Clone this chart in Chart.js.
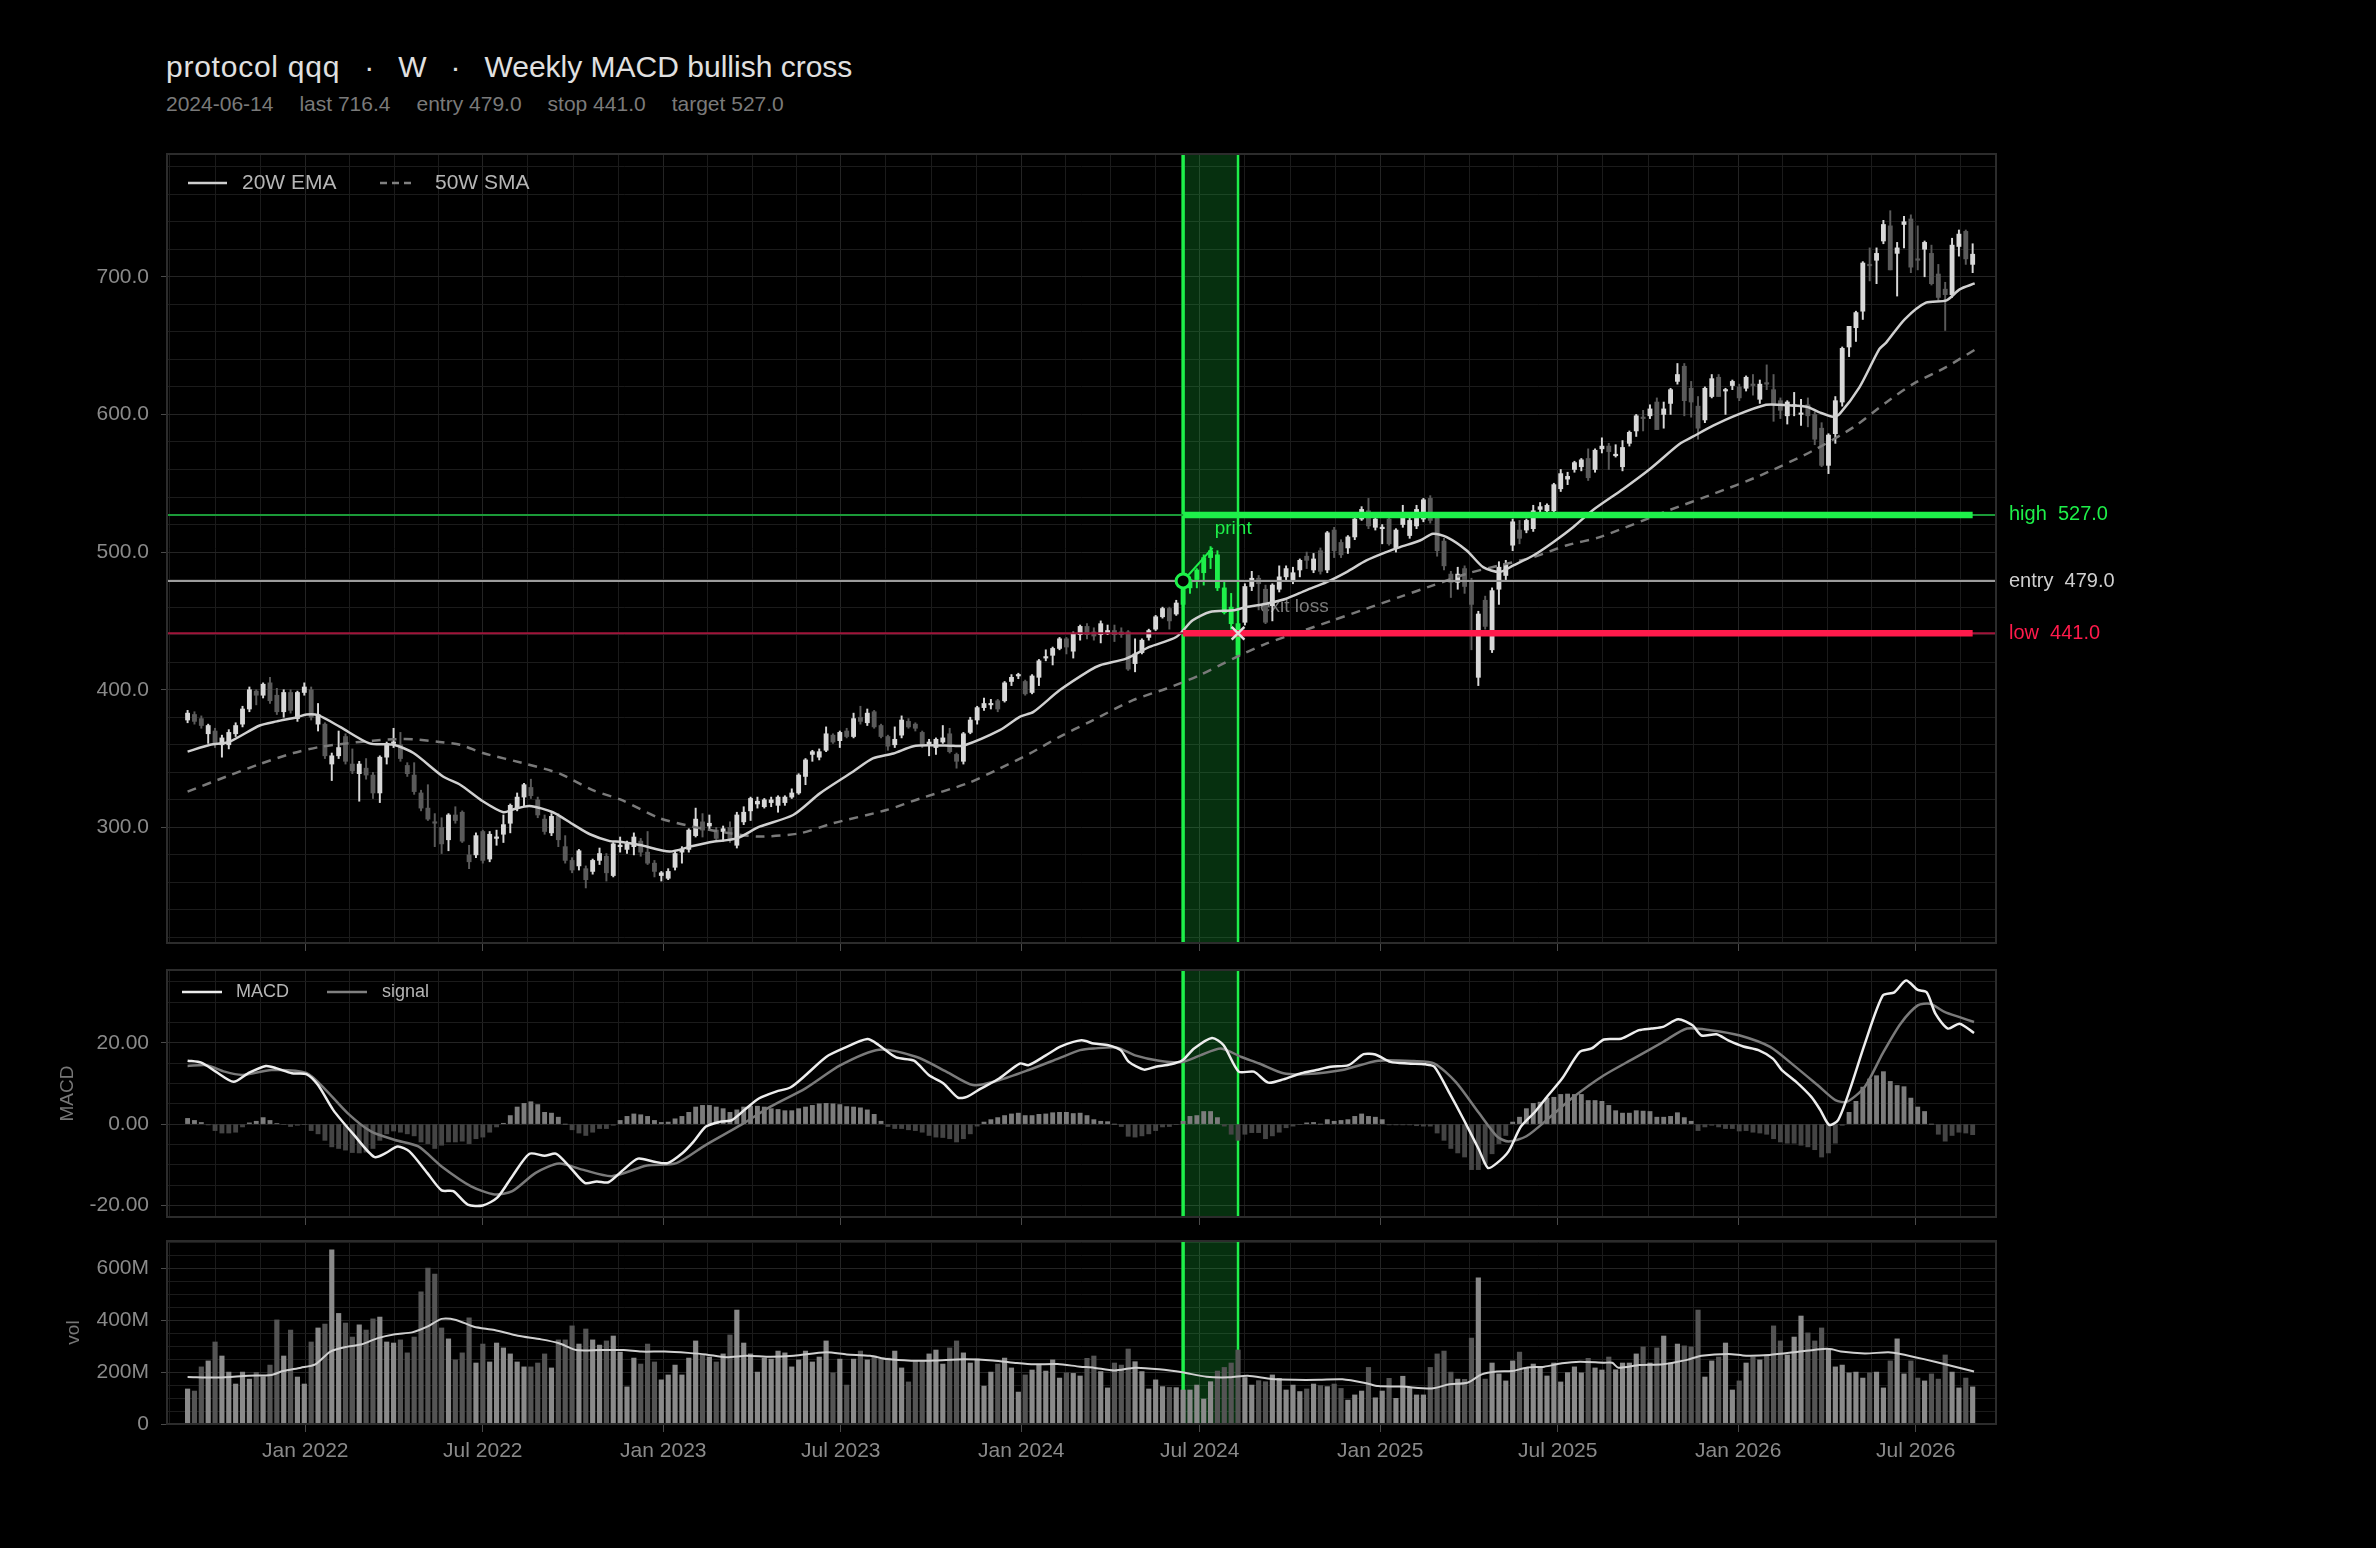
<!DOCTYPE html>
<html>
<head>
<meta charset="utf-8">
<script src="https://cdn.jsdelivr.net/npm/chart.js@4.4.1/dist/chart.umd.min.js"></script>
<style>
  html, body { margin: 0; padding: 0; background: #000; }
  #wrap { position: relative; width: 2376px; height: 1548px; background: #000; overflow: hidden;
          font-family: 'Liberation Sans', Arial, sans-serif; }
  canvas { position: absolute; left: 0; }
  #title { position: absolute; left: 166px; top: 50px; font-size: 30px; line-height: 34px; color: #e0e0e0; white-space: pre; }
  #title .lead { letter-spacing: 0.75px; }
  #title .dot { margin: 0 24px; }
  #sub { position: absolute; left: 166px; top: 91px; font-size: 21px; line-height: 26px; color: #7a7a7a; white-space: pre; }
  #sub span { margin-right: 26px; }
</style>
</head>
<body>
<div id="wrap">
  <div id="title"><span class="lead">protocol qqq</span><span class="dot">·</span><span>W</span><span class="dot">·</span><span>Weekly MACD bullish cross</span></div>
  <div id="sub"><span>2024-06-14</span><span>last 716.4</span><span>entry 479.0</span><span>stop 441.0</span><span>target 527.0</span></div>
  <canvas id="main" width="2376" height="960" style="top:0;width:2376px;height:960px"></canvas>
  <canvas id="macd" width="2376" height="270" style="top:960px;width:2376px;height:270px"></canvas>
  <canvas id="vol" width="2376" height="318" style="top:1230px;width:2376px;height:318px"></canvas>
</div>
<script>
// weekly bars, first bar Fri 2021-09-03
const startDate = Date.UTC(2021, 8, 3);
const entryDate = Date.UTC(2024, 5, 14);
const exitDate = Date.UTC(2024, 7, 9);
const entryPrice = 479.0;
const stopPrice = 441.0;
const targetPrice = 527.0;

// [open, high, low, close]
const candles = [
  [378,385,376,383],[382,384,375,377],[379,381,372,374],[368,375,361,374],[370,372,358,361],[360,367,351,365],[360,371,357,369],[368,376,366,374],[375,388,373,386],[386,402,384,400],
  [399,400,389,396],[396,405,394,404],[405,409,390,392],[396,401,382,384],[384,400,380,398],[398,400,383,385],[379,399,377,398],[398,405,396,402],[400,402,378,380],[375,390,370,382],
  [375,376,350,352],[346,354,334,352],[352,370,350,358],[366,368,346,348],[346,357,339,341],[339,348,319,346],[343,350,335,338],[338,340,321,325],[325,352,318,351],[351,362,346,361],
  [361,372,358,362],[360,369,348,350],[345,347,337,339],[338,347,324,326],[325,327,312,314],[314,331,305,306],[304,310,286,303],[300,307,281,288],[291,310,283,309],[309,315,303,305],
  [311,312,289,290],[280,287,270,275],[280,296,278,294],[297,298,274,276],[277,297,275,295],[292,298,287,293],[295,309,289,302],[303,317,296,316],[314,325,312,322],[322,332,315,331],
  [329,335,321,323],[320,322,307,309],[306,309,295,297],[296,310,294,308],[308,310,286,291],[286,294,274,276],[276,278,267,269],[272,284,269,283],[270,272,256,262],[268,277,266,276],
  [276,285,273,281],[279,281,261,267],[265,289,264,288],[286,293,282,287],[284,290,281,288],[286,296,280,293],[290,292,279,282],[282,297,273,274],[274,276,264,268],[265,268,261,267],
  [263,270,262,268],[271,282,269,281],[282,286,274,284],[284,299,282,298],[294,314,293,306],[304,310,293,298],[301,309,299,303],[298,300,291,292],[297,301,290,299],[300,304,289,291],
  [287,311,285,309],[304,315,302,311],[312,322,305,321],[317,322,314,319],[315,321,314,320],[318,322,315,320],[316,323,311,322],[318,323,316,322],[322,328,321,325],[325,339,324,338],
  [337,350,331,349],[353,356,348,355],[351,357,349,355],[356,373,355,368],[367,368,361,362],[363,370,358,369],[370,372,365,366],[366,383,365,379],[380,388,375,377],[376,386,374,383],
  [384,385,372,373],[374,375,365,366],[366,367,356,359],[360,373,358,364],[367,381,365,378],[377,379,372,373],[375,376,370,372],[369,370,358,360],[360,364,352,362],[358,365,353,364],
  [362,374,361,365],[368,372,354,355],[353,354,343,348],[348,369,346,368],[369,380,368,378],[378,388,375,387],[387,394,385,390],[389,393,386,390],[392,393,384,386],[392,406,391,405],
  [406,411,403,409],[410,412,408,411],[406,407,396,397],[398,411,397,410],[409,422,403,421],[423,429,421,424],[425,431,418,430],[430,438,429,437],[437,438,426,431],[428,442,423,441],
  [440,447,436,446],[446,448,437,440],[442,445,436,439],[440,450,434,448],[441,447,440,443],[443,447,435,440],[442,445,438,440],[442,443,414,415],[419,437,413,426],[427,437,426,436],
  [438,444,436,443],[444,454,443,453],[453,460,452,459],[459,460,444,450],[455,465,454,463],[462,481,460,477],[474,482,470,480],[480,488,474,487],[485,498,476,496],[496,504,488,501],
  [498,501,472,474],[474,478,455,456],[460,470,444,448],[448,452,423,425],[449,477,447,475],[475,486,472,481],[481,483,458,477],[473,476,448,449],[461,477,450,476],[473,490,471,482],
  [482,490,480,488],[479,489,477,485],[487,495,482,494],[497,500,488,494],[487,499,485,495],[501,503,484,486],[487,515,485,514],[516,518,496,501],[507,509,496,498],[503,512,499,511],
  [511,525,509,524],[524,533,523,531],[530,539,517,519],[518,528,516,524],[517,520,506,518],[524,526,505,506],[503,517,500,516],[520,534,518,527],[512,525,510,523],[519,534,517,531],
  [524,539,522,538],[539,541,521,523],[525,527,497,501],[508,510,487,490],[484,486,467,478],[478,489,473,484],[488,490,470,475],[479,481,429,462],[409,457,403,455],[465,468,444,446],
  [429,474,427,472],[473,493,462,489],[483,494,480,491],[505,524,501,522],[516,523,506,510],[516,524,514,523],[517,534,515,530],[531,536,528,533],[530,535,528,534],[530,550,529,549],
  [546,560,544,557],[553,558,549,555],[560,566,558,565],[562,568,559,567],[568,575,552,554],[560,575,558,574],[575,583,572,577],[577,579,560,573],[570,578,569,571],[562,581,559,576],
  [579,588,577,587],[588,600,584,599],[598,603,588,597],[599,607,597,604],[609,612,589,589],[600,609,590,604],[608,619,600,618],[624,637,622,629],[635,637,599,610],[619,624,598,609],
  [606,613,582,590],[596,620,594,619],[613,629,612,626],[627,629,613,613],[617,619,600,618],[621,625,618,624],[620,622,610,612],[619,628,617,627],[622,629,614,621],[611,625,608,622],
  [623,636,618,622],[618,629,595,607],[610,612,597,603],[599,610,593,609],[606,616,599,607],[600,611,592,601],[607,612,591,599],[600,602,578,582],[590,594,562,563],[563,586,557,585],
  [586,613,579,610],[609,649,606,648],[649,664,642,664],[663,675,653,674],[675,711,669,710],[709,721,697,708],[712,721,695,717],[726,741,724,738],[737,748,705,705],[717,725,686,721],
  [738,744,721,740],[742,745,703,707],[713,737,705,712],[720,726,700,725],[717,723,694,695],[702,709,683,685],[691,696,661,687],[687,728,685,723],[722,734,715,731],[733,734,709,713],
  [709,724,703,716.4]
];

// [week, value]
const ema20 = [[0,355],[3.3,360],[6,362],[10.5,374],[13,377],[15.9,380],[17.3,382],[19,381.5],[22.2,373],[26.5,361],[30,360],[32.9,354],[37.2,337],[39.7,331],[43,319],[46,311],[47.4,313],[49.8,315.5],[53.2,311],[56.2,302],[58.6,295],[61.5,290],[63,289.6],[65.9,287.2],[70.2,282.4],[73.2,286],[76.5,289.6],[80,292],[83.3,300.5],[88.2,309],[92.1,324.7],[96.9,340.4],[99.8,350.1],[102.8,353.7],[105.7,359],[108.1,359.7],[111.5,359.3],[113,359.3],[118.3,370.6],[121.2,380.3],[123.2,383.9],[127,399.6],[131.4,414.1],[132.9,417.8],[136.7,422.6],[140.1,431.1],[144,438.3],[146.4,450.4],[148.9,456.5],[152.3,457.7],[154.2,460.1],[157.1,462.5],[160,466.1],[162.9,472.2],[165.9,478.2],[168.8,485.5],[171.7,493.9],[174.6,500],[176.6,503.6],[179.5,508.4],[181.4,513.3],[183.4,510.9],[186.3,501.2],[188.7,489.1],[191.1,485.5],[193.1,490.3],[196,497.5],[198.9,507.2],[201.8,518.1],[204.7,530.6],[209.1,545.9],[213,560.4],[217.3,578.5],[219.3,584],[222.2,591.8],[225.6,599.5],[229.9,607],[231.9,607],[235.8,605.6],[237.7,601.5],[239.7,598.3],[240.6,600.2],[243.5,619.6],[246.4,647.4],[247.4,652.2],[250.1,669.1],[253.2,681.2],[256.2,682.9],[258.1,690.9],[260.3,695.2]];
const sma50 = [[0,326],[5.7,337],[10.5,346],[15.4,354],[19.3,358.5],[23.1,361],[27,363],[30,364],[32.9,364],[36.7,362],[39.7,360],[43,354],[49.4,346],[54.2,339],[59,327],[63,320.3],[68.8,306.6],[73.6,300.5],[79,295.7],[83.3,293.3],[89.2,295.7],[94,303],[101.8,312.6],[106.7,321],[113.6,332],[118.3,342.8],[122.7,353.7],[127,365.8],[131.4,376.7],[137.7,392.4],[142.6,400.9],[147.4,410.5],[152.3,422.6],[157.1,433.5],[162,442],[166.8,450.4],[171.7,458.9],[176.5,467.3],[181.4,475.8],[186.3,484.3],[191.1,490.3],[196,496.3],[200.8,504.8],[205.7,510.9],[215.9,530.6],[222.2,542.2],[229,555.5],[236.7,573.6],[242.6,590.6],[247.4,608.7],[251.3,622],[256.2,634.6],[260.3,646.9]];

const macdLine = [[0,15.6],[2,15.1],[4.1,12.9],[6.7,10.4],[8.8,12.5],[11.4,14.3],[13,13.7],[15.2,12.5],[17.3,12.3],[19,9.6],[21.2,3.5],[24.2,-2.6],[27.2,-8.1],[28.9,-7.1],[30.6,-5.5],[32.3,-6.7],[34.9,-12],[37,-16.3],[38.7,-16.5],[40.8,-19.8],[43,-20],[45.1,-18.1],[47.3,-12.8],[49.8,-7.3],[52,-7.8],[53.7,-7.3],[55.8,-10.8],[57.9,-14.5],[59.6,-14.1],[61.3,-14.3],[63.5,-11.2],[65.6,-8.5],[67.8,-9.2],[69.9,-9.6],[72.1,-7.1],[73.7,-4.3],[75.5,-0.6],[77.6,0.6],[79.3,1.0],[81.4,3.9],[83.2,6.3],[85.7,8.0],[87.8,9.0],[90,12.0],[93,16.5],[95.5,18.6],[99,20.9],[100.7,19.4],[103.2,16.4],[105.8,15.6],[108,12.0],[110.1,10.0],[112.2,6.5],[113.5,6.7],[115.6,8.8],[118.2,11.2],[121.2,14.9],[122.5,14.5],[125,16.9],[127.2,19.1],[130.2,20.6],[132,19.8],[134.1,19.4],[135.9,18.2],[137.1,15.3],[139.3,13.4],[141,14.1],[143.2,14.7],[144.9,15.7],[146.6,18.6],[149.2,21.2],[150.9,19.4],[153.1,12.9],[155.3,12.9],[157.4,10.2],[159.6,11.0],[162.2,12.5],[164.4,13.3],[166.5,14.1],[169.1,14.5],[171.3,17.2],[173,17.1],[175.2,15.3],[177.8,14.9],[180.3,14.7],[181.6,14.1],[183.8,7.6],[185.9,1.0],[188.1,-6.3],[189.4,-10.8],[190.7,-9.6],[192.4,-6.7],[194.2,-0.6],[196.3,3.1],[198,6.7],[200.2,11.2],[202.8,17.8],[204.5,18.6],[206.3,20.8],[208.8,21.0],[211.4,23.1],[213.2,23.5],[214.9,23.9],[217.1,25.8],[219.2,24.3],[220.5,21.8],[222.7,22.1],[224.4,20.6],[226.6,19.1],[228.8,18.2],[230.9,16.1],[232.2,13.3],[234.3,10.4],[236.5,6.7],[237.8,3.5],[239.1,-0.2],[240.4,1.0],[242.1,8.4],[244.3,19.8],[246.9,31.6],[248.6,32.4],[250.3,35.3],[252,33.0],[253.3,32.4],[254.6,27.1],[256.4,23.5],[258.1,24.7],[260.2,22.4]];
const signalLine = [[0,14.3],[2.8,14.5],[5.4,12.9],[8,12.1],[12.2,13.3],[17.3,12.6],[19.9,8.8],[23.3,2.7],[26.7,-1.8],[30.2,-3.9],[33.6,-5.5],[37,-10.4],[41.3,-15.3],[44.7,-17.3],[47.3,-16.5],[50.7,-12],[54.1,-9.7],[57.5,-11.2],[61.8,-12.8],[66.9,-10.2],[71.2,-9.6],[75.5,-5.1],[80.6,-0.2],[84.9,4.3],[90,8.8],[95.1,14.5],[100.7,18.3],[106.2,16.5],[110.5,12.9],[114.4,9.6],[118.2,10.8],[122.5,13.3],[126.8,16.1],[130,18.2],[132,18.6],[135.4,18.8],[138,16.9],[141.5,15.6],[144.9,15.3],[147.5,16.9],[150.5,18.6],[153.5,16.5],[156.1,14.9],[159.6,12.5],[163,12.3],[168.2,13.3],[173.4,15.6],[178.6,15.5],[181.6,14.9],[184.7,10.4],[188.1,2.7],[190.7,-3.0],[192.4,-4.3],[195,-3.0],[198.5,1.8],[201.9,6.7],[206.3,12.0],[210.6,16.1],[214.9,20.2],[218.4,23.5],[221.8,23.1],[226.1,21.8],[230.5,19.0],[233.9,14.5],[237.4,9.6],[240,5.9],[241.7,5.5],[244.3,9.2],[246.9,17.4],[249.5,24.7],[252,29.2],[253.8,29.6],[255.9,27.6],[258.1,26.3],[260.2,25.1]];

// one value per weekly bar
const macdHist = [
  1.4,0.9,0.4,-0.2,-1.6,-2.2,-2.2,-2.0,-0.7,0.3, 0.7,1.6,0.9,0.1,-0.1,-0.6,-0.3,-0.1,-1.6,-2.4,
  -4.0,-5.6,-6.0,-6.4,-7.0,-7.1,-6.9,-6.0,-4.0,-2.4, -1.7,-2.0,-2.4,-2.9,-4.4,-4.8,-6.0,-5.2,-4.4,-4.4,
  -4.2,-4.8,-3.6,-3.2,-2.0,-0.7,0.2,2.1,4.2,5.1, 5.5,4.8,2.9,2.7,1.7,0,-1.4,-2.2,-2.8,-2.0,
  -1.1,-1.1,-0.3,0.9,1.9,2.5,2.3,1.9,0.9,0.4, 0.5,1.3,1.9,2.9,4.2,4.6,4.6,4.2,3.8,2.9,
  3.5,4.2,4.4,4.4,4.2,3.8,3.6,3.3,3.3,3.8, 4.2,4.6,5.0,5.1,5.0,4.8,4.3,4.2,4.0,3.5,
  2.4,0.7,-0.6,-1.1,-1.1,-1.4,-1.6,-2.0,-2.8,-3.2, -3.3,-3.6,-4.4,-3.6,-2.4,-0.5,0.5,1.1,1.6,2.1,
  2.5,2.7,2.1,2.1,2.4,2.5,2.8,2.9,2.9,2.6, 2.7,2.1,1.1,0.7,0.6,0,-0.6,-3.0,-3.2,-2.9,
  -2.4,-1.6,-0.7,-0.6,-0.1,0.7,1.9,2.1,3.1,3.1, 1.6,-0.5,-2.5,-4.0,-2.5,-2.1,-2.1,-3.6,-2.9,-2.0,
  -0.9,-0.5,-0.1,0.3,0.4,0,1.1,0.7,0.9,1.1, 1.9,2.5,1.9,1.7,1.1,-0.2,-0.2,-0.2,-0.2,-0.4,
  -0.5,-0.5,-2.2,-4.0,-6.0,-7.1,-8.1,-11.2,-11.2,-9.7, -7.3,-4.8,-2.8,0.5,1.7,3.8,5.1,5.4,6.4,6.6,
  7.3,7.4,7.3,7.3,5.8,5.8,5.6,4.6,3.3,2.7, 2.7,3.3,3.2,3.1,1.7,1.7,1.9,2.8,1.6,0.7,
  -1.6,-0.7,-0.3,-0.7,-1.1,-1.1,-1.7,-1.6,-2.0,-2.2, -2.5,-3.6,-4.4,-4.7,-4.7,-5.2,-5.6,-6.3,-8.1,-7.1,
  -4.7,-0.3,2.9,5.6,9.1,11.1,11.9,12.9,10.5,9.5, 9.2,6.4,4.2,3.1,0,-2.5,-4.2,-2.8,-2.0,-2.2,
  -2.6
];

// millions of shares
const volumes = [
  135,127,220,243,316,262,200,154,200,173, 199,182,227,401,262,362,181,154,316,370,
  385,671,426,389,335,382,362,405,412,316, 312,324,274,335,509,601,578,370,328,247,
  274,409,235,308,239,312,293,270,239,220, 220,235,270,216,324,324,378,308,366,324,
  304,320,339,277,143,254,231,308,239,170, 189,227,189,254,320,266,258,239,270,343,
  439,312,270,200,254,250,281,274,220,247, 281,239,258,320,197,250,150,250,281,247,
  262,250,254,281,216,162,243,243,270,285, 231,293,320,274,235,250,146,200,231,254,
  216,123,189,208,227,204,247,177,197,195, 185,253,262,202,139,235,227,289,240,202,
  135,170,144,141,140,131,131,150,96,163, 204,218,235,285,179,150,167,163,189,176,
  131,150,125,135,154,148,144,154,137,92, 112,127,218,101,127,176,99,184,140,112,
  112,218,270,281,200,173,172,331,563,173, 235,193,166,243,277,215,231,217,185,235,
  162,198,220,197,253,216,208,258,209,235, 235,270,297,235,293,339,235,308,301,297,
  439,181,243,258,312,131,166,235,258,247, 266,378,320,266,335,416,351,320,370,289,
  220,227,197,200,177,197,200,139,243,328, 193,243,177,166,193,173,266,200,139,177,
  143
];
const volumeAvg = [[0,181],[4.5,179],[8.8,186],[12.2,189],[13.9,204],[16.5,217],[18.6,230],[20.8,279],[23.3,298],[25.4,307],[27.6,330],[30.2,346],[32.7,353],[34.9,375],[37,405],[39.1,401],[41.7,375],[44.7,362],[48.1,340],[51.5,326],[54.1,311],[56.6,285],[60.1,285],[63.5,285],[66.1,279],[69.5,279],[72.9,274],[75.5,268],[78.4,257],[81.4,263],[84.9,259],[88.3,263],[93,276],[96,268],[99.4,263],[101.9,250],[105.4,244],[108.8,245],[113.1,249],[117.3,245],[120.8,235],[123.3,230],[126.7,231],[130,221],[132,217],[135,206],[138,217],[141.5,211],[144.9,199],[148.4,182],[151.8,180],[154.4,186],[157.9,173],[161.3,170],[164.8,170],[168.2,172],[171.7,157],[173.4,146],[176.9,144],[181.2,137],[183.8,153],[186.4,159],[188.5,191],[190.7,202],[192.9,204],[195,217],[197.6,221],[200.2,234],[202.8,240],[206.3,236],[207.5,236],[208.4,217],[211.4,227],[214.9,230],[218.4,247],[220.5,263],[224.4,270],[227,263],[230.4,266],[234.8,279],[238.2,289],[239.5,288],[240.8,279],[244.3,272],[247.7,276],[249.5,270],[252.9,250],[256.4,227],[260.2,202]];

const WEEK = 7 * 86400000;
const weekOf = ms => (ms - startDate) / WEEK;
const entryWeek = weekOf(entryDate);
const exitWeek = weekOf(exitDate);
const lastWeek = candles.length - 1;

const FONT = "'Liberation Sans', Arial, sans-serif";
const GREEN = '#1ef04a';
const RED = '#ff1a4b';
const UP = '#d8d8d8';
const DOWN = '#5a5a5a';
const TXT = '#8a8a8a';
const GRID = '#1b1b1b';
const GRID_MAJOR = '#242424';
const TICK = '#4a4a4a';
const X_MIN = -3, X_MAX = 263.4;
const PLOT_LEFT = 167;

const pts = arr => arr.map(([x, y]) => ({ x, y }));
const inTrade = i => i >= entryWeek && i <= exitWeek;
const isUp = i => candles[i][3] >= candles[i][0];

function xTickList() {
  const b = [];
  for (let y = 2021; y <= 2027; y++) { b.push([y, 0]); b.push([y, 6]); }
  const out = [];
  for (let k = 0; k < b.length - 1; k++) {
    const a = weekOf(Date.UTC(b[k][0], b[k][1], 1));
    const c = weekOf(Date.UTC(b[k + 1][0], b[k + 1][1], 1));
    for (let q = 0; q < 4; q++) {
      const v = a + (c - a) * q / 4;
      if (v < X_MIN || v > X_MAX) continue;
      out.push({ value: v, isMajor: q === 0, text: q === 0 ? (b[k][1] === 0 ? 'Jan ' : 'Jul ') + b[k][0] : '' });
    }
  }
  return out;
}

function xScale(showLabels, height) {
  return {
    type: 'linear', min: X_MIN, max: X_MAX, offset: false,
    afterBuildTicks: s => { s.ticks = xTickList(); },
    afterFit: s => { s.height = height; s.paddingLeft = 0; s.paddingRight = 0; },
    grid: {
      offset: false, lineWidth: 1, tickLength: 8,
      color: c => (c.tick && c.tick.isMajor ? GRID_MAJOR : GRID),
      tickColor: c => (c.tick && c.tick.isMajor ? TICK : 'rgba(0,0,0,0)')
    },
    border: { display: false },
    ticks: {
      autoSkip: false, maxRotation: 0, padding: 7, color: TXT,
      font: { family: FONT, size: 21 },
      callback: (v, i, ts) => (showLabels ? ts[i].text : '')
    }
  };
}

function yScale(min, max, step, major, fmt, title, titlePad) {
  return {
    type: 'linear', position: 'left', min, max,
    afterBuildTicks: s => {
      const t = [];
      for (let v = Math.ceil(min / step) * step; v <= max; v += step) {
        t.push({ value: v, isMajor: Math.abs(v % major) < 1e-9 });
      }
      s.ticks = t;
    },
    afterFit: s => { s.width = PLOT_LEFT; s.paddingTop = 0; s.paddingBottom = 0; },
    grid: {
      lineWidth: 1, tickLength: 6,
      color: c => (c.tick && c.tick.isMajor ? GRID_MAJOR : GRID),
      tickColor: c => (c.tick && c.tick.isMajor ? TICK : 'rgba(0,0,0,0)')
    },
    border: { display: false },
    ticks: {
      autoSkip: false, padding: 12, color: TXT, font: { family: FONT, size: 21 },
      callback: (v, i, ts) => (ts[i].isMajor ? fmt(v) : '')
    },
    title: title
      ? { display: true, text: title, color: '#777', font: { family: FONT, size: 19 }, padding: { top: titlePad, bottom: 0 } }
      : { display: false }
  };
}

function tradeBand(chart) {
  const { ctx, chartArea: a, scales: { x } } = chart;
  const x0 = x.getPixelForValue(entryWeek);
  const x1 = x.getPixelForValue(exitWeek);
  ctx.save();
  ctx.fillStyle = 'rgba(30, 240, 74, 0.2)';
  ctx.fillRect(x0, a.top, x1 - x0, a.bottom - a.top);
  ctx.strokeStyle = GREEN;
  ctx.lineWidth = 3.5;
  ctx.beginPath(); ctx.moveTo(x0, a.top); ctx.lineTo(x0, a.bottom); ctx.stroke();
  ctx.lineWidth = 2.5;
  ctx.beginPath(); ctx.moveTo(x1, a.top); ctx.lineTo(x1, a.bottom); ctx.stroke();
  ctx.restore();
}

function frame(chart) {
  const { ctx, chartArea: a } = chart;
  ctx.save();
  ctx.strokeStyle = '#2c2c2c';
  ctx.lineWidth = 2;
  ctx.strokeRect(a.left, a.top, a.right - a.left, a.bottom - a.top);
  ctx.restore();
}

function legend(ctx, y, items, size) {
  ctx.save();
  ctx.font = size + 'px ' + FONT;
  ctx.textBaseline = 'middle';
  items.forEach(it => {
    ctx.strokeStyle = it.color;
    ctx.lineWidth = 2.5;
    ctx.setLineDash(it.dash || []);
    ctx.beginPath(); ctx.moveTo(it.x0, y); ctx.lineTo(it.x1, y); ctx.stroke();
    ctx.setLineDash([]);
    ctx.fillStyle = '#b5b5b5';
    ctx.fillText(it.text, it.tx, y);
  });
  ctx.restore();
}

const mainDecor = {
  id: 'mainDecor',
  beforeDatasetsDraw(chart) {
    const { ctx, chartArea: a, scales: { x, y } } = chart;
    tradeBand(chart);
    ctx.save();
    ctx.beginPath(); ctx.rect(a.left, a.top, a.right - a.left, a.bottom - a.top); ctx.clip();
    ctx.font = '19px ' + FONT;
    ctx.textBaseline = 'middle';
    ctx.fillStyle = '#7a7a7a';
    ctx.fillText('exit loss', x.getPixelForValue(exitWeek + 3.2), y.getPixelForValue(460));
    ctx.restore();
  },
  afterDatasetsDraw(chart) {
    const { ctx, scales: { x, y } } = chart;
    ctx.save();
    ctx.font = '19px ' + FONT;
    ctx.textBaseline = 'middle';
    ctx.fillStyle = GREEN;
    ctx.fillText('print', x.getPixelForValue(entryWeek + 4.6), y.getPixelForValue(517));
    ctx.restore();
    legend(ctx, 183, [
      { x0: 188, x1: 227, tx: 242, text: '20W EMA', color: '#cfcfcf' },
      { x0: 380, x1: 415, tx: 435, text: '50W SMA', color: '#808080', dash: [7, 5] }
    ], 21);
  },
  afterDraw(chart) {
    const { ctx, chartArea: a, scales: { y } } = chart;
    frame(chart);
    ctx.save();
    ctx.font = '20px ' + FONT;
    ctx.textBaseline = 'middle';
    [[targetPrice, 'high  ' + targetPrice.toFixed(1), GREEN],
     [entryPrice, 'entry  ' + entryPrice.toFixed(1), '#cfcfcf'],
     [stopPrice, 'low  ' + stopPrice.toFixed(1), RED]].forEach(([v, t, c]) => {
      ctx.fillStyle = c;
      ctx.fillText(t, a.right + 13, y.getPixelForValue(v));
    });
    ctx.restore();
  }
};

const macdDecor = {
  id: 'macdDecor',
  beforeDatasetsDraw(chart) { tradeBand(chart); },
  afterDraw(chart) {
    frame(chart);
    legend(chart.ctx, 32, [
      { x0: 182, x1: 222, tx: 236, text: 'MACD', color: '#ededed' },
      { x0: 327, x1: 367, tx: 382, text: 'signal', color: '#808080' }
    ], 18);
  }
};

const volDecor = {
  id: 'volDecor',
  beforeDatasetsDraw(chart) { tradeBand(chart); },
  afterDraw(chart) { frame(chart); }
};

const baseOptions = {
  responsive: false, animation: false, devicePixelRatio: 1, events: [],
  plugins: { legend: { display: false }, tooltip: { enabled: false } }
};

const line = (data, color, width, order, extra) => Object.assign({
  type: 'line', data: pts(data), borderColor: color, borderWidth: width,
  pointRadius: 0, fill: false, tension: 0.25, order
}, extra || {});

// price panel
new Chart(document.getElementById('main'), {
  type: 'bar',
  data: {
    datasets: [
      { type: 'line', data: [{ x: exitWeek, y: stopPrice }], showLine: false, pointStyle: 'crossRot',
        pointRadius: 9, borderColor: '#dedede', borderWidth: 2.5, order: 0 },
      { type: 'line', data: [{ x: entryWeek, y: entryPrice }], showLine: false, pointStyle: 'circle',
        pointRadius: 7, borderColor: GREEN, backgroundColor: '#000', borderWidth: 3, order: 1 },
      line([[entryWeek, entryPrice], [entryWeek + 4.3, 503]], GREEN, 2, 2, { tension: 0 }),
      line([[entryWeek, targetPrice], [lastWeek, targetPrice]], GREEN, 6.5, 3, { tension: 0 }),
      line([[entryWeek, stopPrice], [lastWeek, stopPrice]], RED, 6.5, 3, { tension: 0 }),
      line([[X_MIN, targetPrice], [X_MAX, targetPrice]], '#1b9a38', 2, 4, { tension: 0 }),
      line([[X_MIN, entryPrice], [X_MAX, entryPrice]], '#9c9c9c', 2, 4, { tension: 0 }),
      line([[X_MIN, stopPrice], [X_MAX, stopPrice]], '#a0143a', 2, 4, { tension: 0 }),
      line(ema20, '#d0d0d0', 2.5, 5),
      line(sma50, '#7a7a7a', 2.5, 6, { borderDash: [9, 7] }),
      { type: 'bar', data: candles.map((c, i) => ({ x: i, y: [c[0], c[3]] })), barThickness: 4.2,
        minBarLength: 1.5, grouped: false, order: 7,
        backgroundColor: c => (inTrade(c.dataIndex) ? GREEN : (isUp(c.dataIndex) ? UP : DOWN)) },
      { type: 'bar', data: candles.map((c, i) => ({ x: i, y: [c[2], c[1]] })), barThickness: 1.3,
        grouped: false, order: 8,
        backgroundColor: c => (inTrade(c.dataIndex) ? GREEN : (isUp(c.dataIndex) ? UP : DOWN)) }
    ]
  },
  options: Object.assign({}, baseOptions, {
    layout: { padding: { top: 154, right: 380, left: 0, bottom: 0 } },
    scales: {
      x: xScale(false, 17),
      y: yScale(216, 789.2, 20, 100, v => v.toFixed(1), null, 0)
    }
  }),
  plugins: [mainDecor]
});

// MACD panel
new Chart(document.getElementById('macd'), {
  type: 'bar',
  data: {
    datasets: [
      line(macdLine, '#ededed', 2.5, 0),
      line(signalLine, '#7a7a7a', 2.5, 1),
      { type: 'bar', data: macdHist.map((v, i) => ({ x: i, y: v })), barThickness: 4.2, grouped: false, order: 2,
        backgroundColor: c => (macdHist[c.dataIndex] >= 0 ? '#7c7c7c' : '#444444') }
    ]
  },
  options: Object.assign({}, baseOptions, {
    layout: { padding: { top: 10, right: 380, left: 0, bottom: 0 } },
    scales: {
      x: xScale(false, 13),
      y: yScale(-22.85, 37.9, 5, 20, v => v.toFixed(2), 'MACD', 56)
    }
  }),
  plugins: [macdDecor]
});

// volume panel
new Chart(document.getElementById('vol'), {
  type: 'bar',
  data: {
    datasets: [
      line(volumeAvg, '#cfcfcf', 2, 0),
      { type: 'bar', data: volumes.map((v, i) => ({ x: i, y: v })), barThickness: 4.5, grouped: false, order: 1,
        backgroundColor: c => (isUp(c.dataIndex) ? '#8a8a8a' : '#545454') }
    ]
  },
  options: Object.assign({}, baseOptions, {
    layout: { padding: { top: 11, right: 380, left: 0, bottom: 0 } },
    scales: {
      x: xScale(true, 124),
      y: yScale(0, 705, 50, 200, v => (v === 0 ? '0' : v + 'M'), 'vol', 62)
    }
  }),
  plugins: [volDecor]
});
</script>
</body>
</html>
